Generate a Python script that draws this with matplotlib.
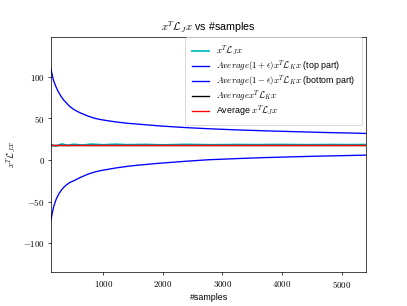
import matplotlib
matplotlib.use('Agg')
import matplotlib.pyplot as plt
from matplotlib.ticker import FuncFormatter

plt.rcParams['font.family'] = ['Liberation Sans', 'DejaVu Sans']
plt.rcParams['mathtext.fontset'] = 'cm'

# Values
samples = [120, 135, 150, 165, 183, 205, 230, 260, 294, 335, 380, 440, 519,
           600, 680, 760, 855, 970, 1100, 1250, 1415, 1580, 1750, 1920, 2087,
           2400, 2760, 3200, 3700, 4200, 4700, 5100, 5415]
top = [110, 104.5, 99.5, 95.5, 92, 88, 84, 80, 76, 72, 68.5, 64, 60,
       57, 54.5, 52.3, 50, 48.3, 46.8, 45.3, 44, 43, 42, 41, 40.2,
       38.8, 37.5, 36.2, 35, 34, 33, 32.4, 31.8]
bottom = [-72.6, -67, -61.5, -56.8, -52.5, -48, -44, -40, -36.5, -33, -30, -27, -24.5,
          -21.5, -19, -16.6, -14.5, -12.6, -11, -9.2, -7.6, -6.3, -5.2, -4.1, -3.2,
          -1.5, 0.2, 1.5, 2.8, 3.8, 4.7, 5.3, 5.8]
xj_samples = [120, 160, 200, 250, 300, 400, 500, 650, 800, 1000, 1200, 1400, 1700, 2000,
              2400, 2800, 3200, 3600, 4000, 4400, 4800, 5100, 5415]
xj = [18.8, 17.2, 16.8, 17.6, 19.2, 17.5, 18.8, 17.8, 19.0, 18.2, 18.9, 18.3, 18.6, 18.1,
      18.7, 18.2, 18.5, 18.4, 18.6, 18.3, 18.5, 18.4, 18.5]
avg_k = [18.4] * len(samples)
avg_j = [18.4] * len(samples)

fig = plt.figure(figsize=(407 / 64, 306 / 64), dpi=64)
ax = plt.gca()
ax.plot(xj_samples, xj, color='c', lw=2, label=r'$x^T\mathcal{L}_J x$')
ax.plot(samples, top, color='b', label=r'$Average(1+\epsilon)x^T\mathcal{L}_K x$ (top part)')
ax.plot(samples, bottom, color='b', label=r'$Average(1-\epsilon)x^T\mathcal{L}_K x$ (bottom part)')
ax.plot(samples, avg_k, color='k', lw=1.5, label=r'$Average x^T\mathcal{L}_K x$')
ax.plot(samples, avg_j, color='r', lw=1.5, label=r'Average $x^T\mathcal{L}_J x$')

plt.xlim(samples[0], samples[-1])
plt.ylim(-135, 148)
tickfmt = FuncFormatter(lambda v, pos: r'$%d$' % v)
ax.xaxis.set_major_formatter(tickfmt)
ax.yaxis.set_major_formatter(tickfmt)
plt.xlabel('#samples')
plt.ylabel(r'$x^T\mathcal{L}_J x$')
plt.title(r'$x^T\mathcal{L}_J x$ vs #samples')
plt.legend(loc='upper right', bbox_to_anchor=(0.986, 0.997), borderaxespad=0,
           fontsize=10, labelspacing=0.0, borderpad=0.7)
plt.savefig('out.png', dpi=64)
